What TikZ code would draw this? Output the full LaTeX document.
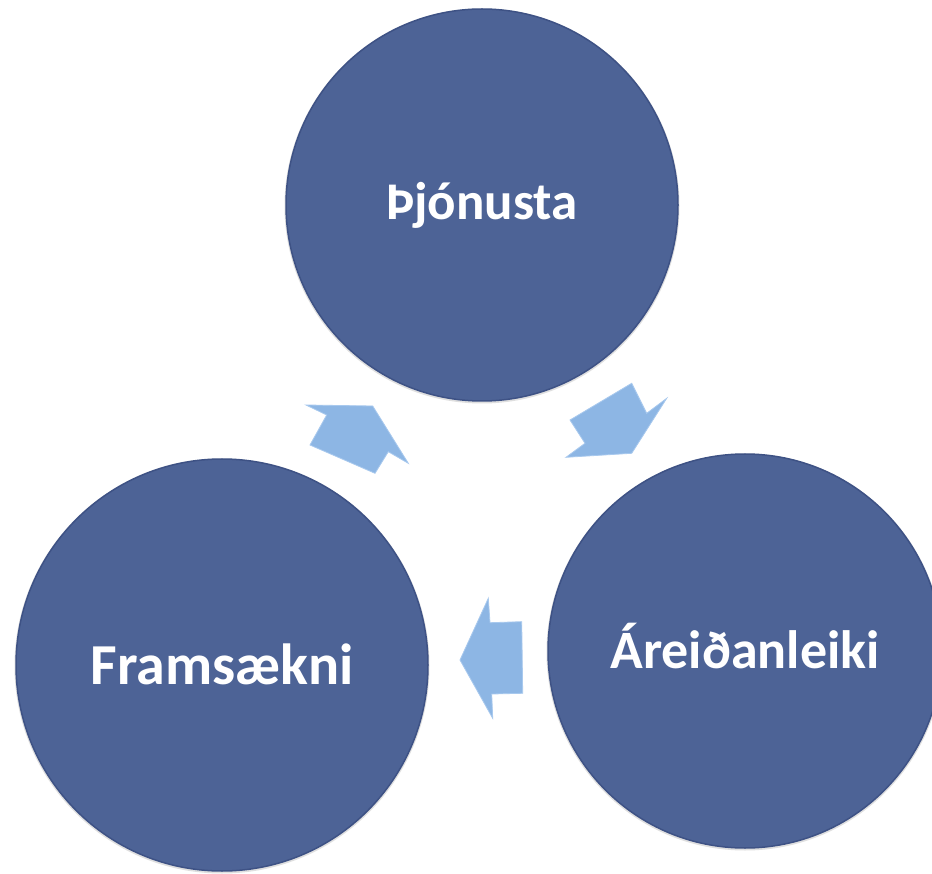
\documentclass[tikz,border=0pt]{standalone}
\usepackage{fontspec}
\setmainfont{Carlito}
\definecolor{circfill}{HTML}{4D6396}
\definecolor{circedge}{HTML}{3E5285}
\definecolor{arrfill}{HTML}{8DB6E4}
\definecolor{arredge}{HTML}{A8C9EE}
\begin{document}
\begin{tikzpicture}[x=1pt,y=-1pt,
  bubble/.style={circle,fill=circfill,draw=circedge,line width=1.5pt,inner sep=0pt},
  bubbletext/.style={text=white,font=\bfseries\fontsize{#1}{60}\selectfont},
  blockarrow/.style={fill=arrfill,draw=arredge,line width=0.8pt,line join=miter}]
\useasboundingbox (0,0) rectangle (932,874);
\clip (0,0) rectangle (932,874);
\fill[white] (0,0) rectangle (932,874);
% soft halos
\fill[gray!25] (482,206) circle (197.5);
\fill[gray!25] (222,666) circle (207.5);
\fill[gray!25] (745,652) circle (198.5);
\node[bubble,minimum size=392pt] (top) at (482,205) {};
\node[bubble,minimum size=412pt] (left) at (222,665) {};
\node[bubble,minimum size=394pt] (right) at (745,651) {};
\node[bubbletext=53] (toplbl) at ([yshift=0pt]top.center) {Þjónusta};
\node[bubbletext=58] (leftlbl) at ([yshift=1pt]left.center) {Framsækni};
\node[bubbletext=54] (rightlbl) at ([yshift=5pt]right.center) {Áreiðanleiki};
% block arrows
\draw[blockarrow] (372.7,406) -- (408.3,463.3) -- (388.3,451.7) -- (375,473.3)
  -- (310,445) -- (326.7,415) -- (306,405) -- cycle;
\draw[blockarrow] (631.7,453.3) -- (566,457.3) -- (585,443.3) -- (570,420)
  -- (631.7,383.3) -- (646.7,413.3) -- (666.7,398.3) -- cycle;
\draw[blockarrow] (460,660) -- (488.3,598.3) -- (490,622.7) -- (521.7,621.7)
  -- (522.7,693.3) -- (491.7,694) -- (492.7,718.3) -- cycle;
\end{tikzpicture}
\end{document}
